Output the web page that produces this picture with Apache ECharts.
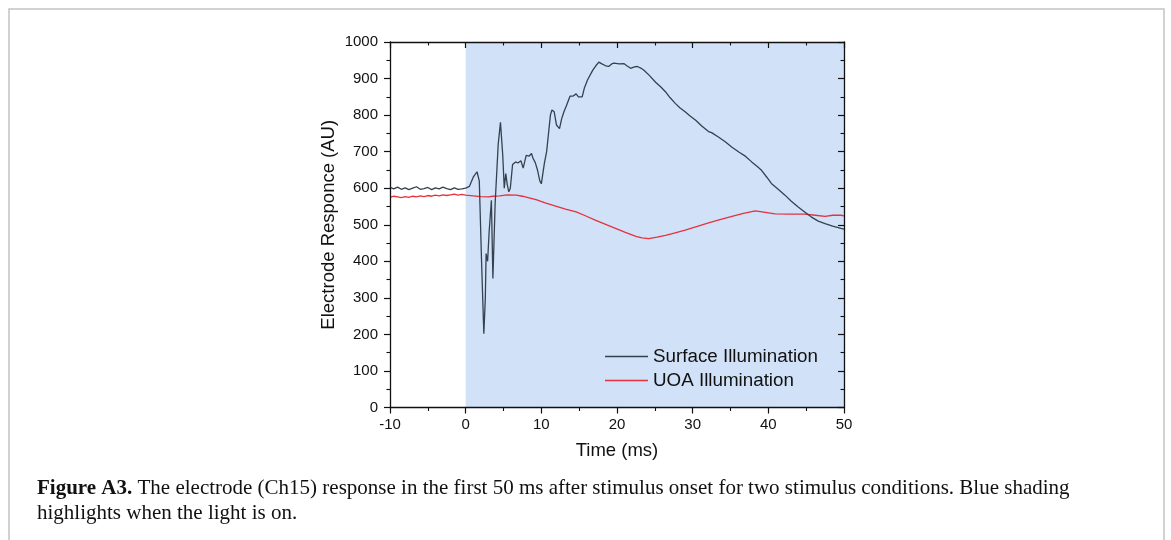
<!DOCTYPE html>
<html>
<head>
<meta charset="utf-8">
<script src="https://cdn.jsdelivr.net/npm/echarts@6/dist/echarts.min.js"></script>
<style>
html,body{margin:0;padding:0;background:#fff;}
#chart{width:1171px;height:540px;}
</style>
</head>
<body>
<div id="chart"></div>
<script>
// ---- Data ----
const xTicks = [-10, 0, 10, 20, 30, 40, 50];
const yTicks = [0, 100, 200, 300, 400, 500, 600, 700, 800, 900, 1000];

const surfaceTime = [-10,-9.5,-9,-8.5,-8,-7.5,-7,-6.5,-6,-5.5,-5,-4.5,-4,-3.5,-3,-2.5,-2,-1.5,-1,-0.5,0,
  0.5,1.0,1.5,1.8,2.1,2.4,2.6,2.7,2.9,3.1,3.4,3.6,3.9,4.3,4.6,4.9,5.1,5.3,5.5,5.7,5.9,6.2,6.6,6.9,7.3,7.6,8.0,8.4,8.7,8.9,9.2,9.5,9.8,10.0,
  10.4,10.7,10.9,11.2,11.4,11.7,12.0,12.4,12.7,13.0,13.3,13.8,14.2,14.6,14.9,15.4,15.7,16.1,16.8,17.2,17.6,18.0,18.5,18.9,19.3,19.6,20.3,20.9,
  21.3,21.8,22.3,22.7,23.2,23.6,24.3,25.1,25.8,26.4,27.0,27.7,28.3,29.0,29.7,30.4,31.2,32.1,32.5,33.4,34.3,35.2,36.1,37.0,37.8,38.5,39.1,39.8,
  40.4,41.3,42.2,43.0,43.9,44.8,45.7,46.6,47.5,48.5,49.6,50];
const surfaceValue = [602,598,603,597,601,596,600,604,597,599,602,596,601,598,603,599,596,601,597,598,600,
  605,630,645,620,400,202,300,421,400,480,567,353,560,720,780,690,600,640,610,590,600,665,672,669,675,655,690,688,695,682,670,649,620,612,
  668,700,740,800,814,809,773,763,791,810,825,852,852,858,850,850,875,896,923,935,945,940,935,933,940,942,940,941,
  935,928,932,933,928,922,908,890,877,864,848,832,820,809,797,786,770,755,752,740,727,712,699,687,672,660,649,630,
  613,597,581,565,549,535,521,510,503,496,490,488];

const uoaTime = [-10,-9.5,-9,-8.5,-8,-7.5,-7,-6.5,-6,-5.5,-5,-4.5,-4,-3.5,-3,-2.5,-2,-1.5,-1,-0.5,0,
  1,2,3,3.6,4.5,5.5,6.7,7.5,8.5,9.3,10.5,11.9,13.2,14.6,15.9,17.2,18.5,19.8,21.1,22.5,23.3,24.2,25.3,26.4,27.7,29.0,30.5,32.1,33.6,
  35.2,36.7,38.3,39.6,40.9,42.8,44.8,46.2,47.5,48.5,49.6,50];
const uoaValue = [575,578,576,574,577,575,578,576,579,577,580,578,581,579,582,580,582,584,581,583,581,
  579,577,576,578,579,582,581,578,573,569,560,551,543,535,524,512,501,490,479,468,464,462,466,471,478,485,495,505,514,
  523,531,538,534,530,529,529,526,523,526,526,524];

const seriesNames = ['Surface Illumination', 'UOA Illumination'];
const lightOn = [0, 50];

const captionBold = 'Figure A3.';
const captionLine1 = ' The electrode (Ch15) response in the first 50 ms after stimulus onset for two stimulus conditions. Blue shading';
const captionLine2 = 'highlights when the light is on.';

// ---- Chart ----
const pairs = (xs, ys) => xs.map((x, i) => [x, ys[i]]);
const chart = echarts.init(document.getElementById('chart'), null, {renderer: 'canvas'});
const font = 'Liberation Sans, Arial, sans-serif';
const axisLineStyle = {color: '#111', width: 1.3};

function xAx(pos, showLabel, inside) {
  return {
    type: 'value', position: pos, min: xTicks[0], max: xTicks[xTicks.length - 1], interval: 10, z: 10,
    axisLine: {show: true, onZero: false, lineStyle: axisLineStyle},
    axisTick: {show: true, inside: inside, length: 6, lineStyle: {color: '#111', width: 1.2}},
    minorTick: {show: true, splitNumber: 2, length: 3.5, lineStyle: {color: '#111', width: 1.1}},
    splitLine: {show: false}, minorSplitLine: {show: false},
    axisLabel: {show: showLabel, fontSize: 15, color: '#111', fontFamily: font, margin: 10,
                formatter: v => String(v)},
    name: showLabel ? 'Time (ms)' : '', nameLocation: 'middle', nameGap: 34,
    nameTextStyle: {fontSize: 18.5, color: '#111', fontFamily: font}
  };
}
function yAx(pos, showLabel, inside) {
  return {
    type: 'value', position: pos, min: yTicks[0], max: yTicks[yTicks.length - 1], interval: 100, z: 10,
    axisLine: {show: true, onZero: false, lineStyle: axisLineStyle},
    axisTick: {show: true, inside: inside, length: 6, lineStyle: {color: '#111', width: 1.2}},
    minorTick: {show: true, splitNumber: 2, length: 3.5, lineStyle: {color: '#111', width: 1.1}},
    splitLine: {show: false}, minorSplitLine: {show: false},
    axisLabel: {show: showLabel, fontSize: 15, color: '#111', fontFamily: font, margin: 12,
                formatter: v => String(v)},
    name: showLabel ? 'Electrode Responce (AU)' : '', nameLocation: 'middle', nameGap: 52,
    nameTextStyle: {fontSize: 18.5, color: '#111', fontFamily: font}
  };
}

const option = {
  animation: false,
  backgroundColor: '#fff',
  grid: {left: 390, right: 327, top: 42, bottom: 132.5, containLabel: false},
  xAxis: [xAx('bottom', true, false), xAx('top', false, true)],
  yAxis: [yAx('left', true, false), yAx('right', false, true)],
  legend: {
    data: seriesNames, orient: 'vertical', left: 605, top: 347, padding: 0,
    itemGap: 5, itemWidth: 43, itemHeight: 1.5, icon: 'rect',
    textStyle: {fontSize: 18.8, color: '#111', fontFamily: font, padding: [0, 0, 0, 0]}
  },
  series: [
    {
      name: seriesNames[0], type: 'line', data: pairs(surfaceTime, surfaceValue),
      showSymbol: false, symbol: 'none', z: 3,
      lineStyle: {color: '#36414f', width: 1.3}, itemStyle: {color: '#36414f'},
      markArea: {
        silent: true, itemStyle: {color: '#d1e1f7'},
        data: [[{xAxis: lightOn[0]}, {xAxis: lightOn[1]}]]
      }
    },
    {
      name: seriesNames[1], type: 'line', data: pairs(uoaTime, uoaValue),
      showSymbol: false, symbol: 'none', z: 2,
      lineStyle: {color: '#e2333f', width: 1.3}, itemStyle: {color: '#e2333f'}
    }
  ],
  graphic: [
    {type: 'rect', silent: true, shape: {x: 9, y: 9, width: 1155, height: 620},
     style: {fill: 'none', stroke: '#c4c4c4', lineWidth: 1.5}},
    {type: 'text', left: 37, top: 478, silent: true,
     style: {text: '{b|' + captionBold + '}{n|' + captionLine1 + '}',
       rich: {b: {fontWeight: 'bold', fontSize: 21, fontFamily: 'Liberation Serif, serif', fill: '#111'},
              n: {fontSize: 21, fontFamily: 'Liberation Serif, serif', fill: '#111'}}}},
    {type: 'text', left: 37, top: 503, silent: true,
     style: {text: captionLine2, fontSize: 21, fontFamily: 'Liberation Serif, serif', fill: '#111'}}
  ]
};
chart.setOption(option);
</script>
</body>
</html>
